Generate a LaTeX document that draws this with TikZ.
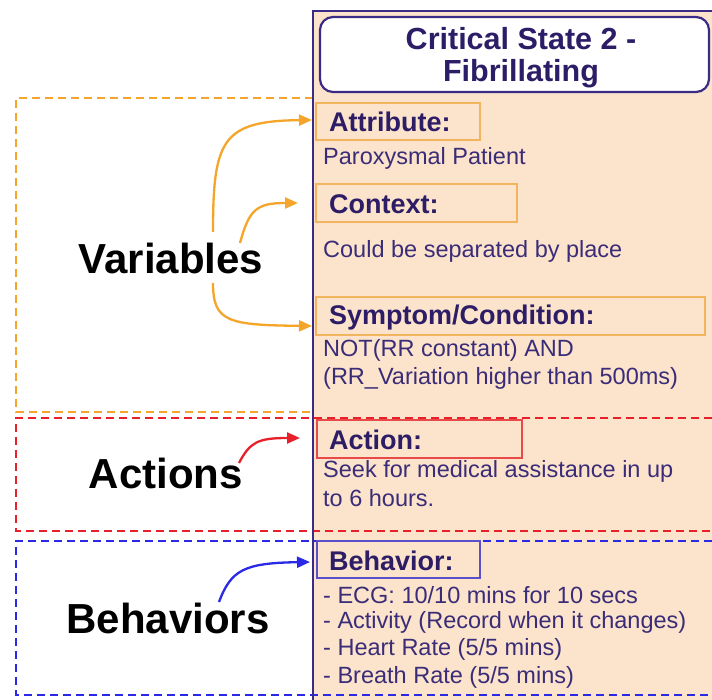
\documentclass[tikz,border=0pt]{standalone}
\usepackage{fontspec}
\setmainfont{Liberation Sans}
\usetikzlibrary{arrows.meta}
\definecolor{peach}{HTML}{FBE4CB}
\definecolor{navy}{HTML}{3A2C86}
\definecolor{headtxt}{HTML}{2D1C66}
\definecolor{bodytxt}{HTML}{3A2C78}
\definecolor{orng}{HTML}{F4A52A}
\definecolor{orngbox}{HTML}{F2B45E}
\definecolor{redd}{HTML}{E8202A}
\definecolor{redbox}{HTML}{E84A4A}
\definecolor{bluu}{HTML}{2A2AE6}
\definecolor{bluebox}{HTML}{5A50CC}
\tikzset{
  headbox/.style={draw, line width=1.5pt, rectangle, inner sep=0pt},
  headlbl/.style={anchor=west, text=headtxt, font=\fontsize{27}{30}\selectfont\bfseries, inner sep=0pt},
  bodylbl/.style={anchor=west, text=bodytxt, font=\fontsize{23.5}{27}\selectfont, inner sep=0pt},
  biglbl/.style={text=black, font=\fontsize{42}{45}\selectfont\bfseries, inner sep=0pt},
  dashbox/.style={line width=2.4pt, dash pattern=on 8pt off 5pt},
  arr/.style={line width=2.3pt, -{Triangle[length=13pt,width=11pt]}},
}
\begin{document}
\begin{tikzpicture}[x=1pt,y=-1pt]
\useasboundingbox (0,0) rectangle (712,700);
\fill[white] (0,0) rectangle (712,700);
% panel
\fill[peach] (313,11) rectangle (712,700);
% dashed groups
\draw[dashbox, orng] (313,98) -- (16,98) -- (16,412) -- (313,412);
\draw[dashbox, redd] (712,418) -- (16,418) -- (16,531) -- (712,531);
\draw[dashbox, bluu] (712,541) -- (16,541) -- (16,695) -- (712,695);
% panel borders
\draw[navy, line width=2.6pt] (313,700) -- (313,11) -- (712,11);
% title
\draw[navy, line width=2.2pt, fill=white, rounded corners=13pt] (320,17) rectangle (709,92);
\node[text=headtxt, font=\fontsize{30.5}{33}\selectfont\bfseries, align=center, inner sep=0pt] (title) at (521,58) {Critical State 2 -\\[-1pt]Fibrillating};
% attribute
\draw[headbox, orngbox] (316,103) rectangle (480,140);
\node[headlbl] (attr) at (329,122) {Attribute:};
\node[bodylbl] (attrtxt) at (323,158) {Paroxysmal Patient};
% context
\draw[headbox, orngbox] (316,184) rectangle (517,222);
\node[headlbl] (ctx) at (329,204) {Context:};
\node[bodylbl] (ctxtxt) at (323,251) {Could be separated by place};
% symptom
\draw[headbox, orngbox] (316,297) rectangle (705,335);
\node[headlbl] (sym) at (329,318) {Symptom/Condition:};
\node[bodylbl] (symtxt1) at (323,350) {NOT(RR constant) AND};
\node[bodylbl] (symtxt2) at (323,378) {(RR\_Variation higher than 500ms)};
% action
\draw[headbox, redbox] (317,420) rectangle (522,458);
\node[headlbl] (act) at (329,440) {Action:};
\node[bodylbl] (acttxt1) at (323,471) {Seek for medical assistance in up};
\node[bodylbl] (acttxt2) at (323,498) {to 6 hours.};
% behavior
\draw[headbox, bluebox] (317,541) rectangle (480,578);
\node[headlbl] (beh) at (329,561) {Behavior:};
\node[bodylbl] (b1) at (323,595) {- ECG: 10/10 mins for 10 secs};
\node[bodylbl] (b2) at (323,622) {- Activity (Record when it changes)};
\node[bodylbl] (b3) at (323,649) {- Heart Rate (5/5 mins)};
\node[bodylbl] (b4) at (323,677) {- Breath Rate (5/5 mins)};
% big labels
\node[biglbl] (vars) at (171,258) {Variables};
\node[biglbl] (acts) at (166,473) {Actions};
\node[biglbl] (behs) at (168,618) {Behaviors};
% arrow coordinates
\coordinate (va1) at (213,232);
\coordinate (va2) at (240,243);
\coordinate (va3) at (213,283);
\coordinate (ta1) at (312,120);
\coordinate (ta2) at (298,203);
\coordinate (ta3) at (312,326);
\coordinate (ra) at (239,463);
\coordinate (rt) at (300,438);
\coordinate (ba) at (219,602);
\coordinate (bt) at (310,562);
\draw[arr, orng] (va1) .. controls (213,140) and (222,121) .. (ta1);
\draw[arr, orng] (va2) .. controls (249,210) and (256,203) .. (ta2);
\draw[arr, orng] (va3) .. controls (213,322) and (228,325) .. (ta3);
\draw[arr, redd] (ra) .. controls (250,442) and (258,438) .. (rt);
\draw[arr, bluu] (ba) .. controls (231,570) and (244,563) .. (bt);
\end{tikzpicture}
\end{document}
